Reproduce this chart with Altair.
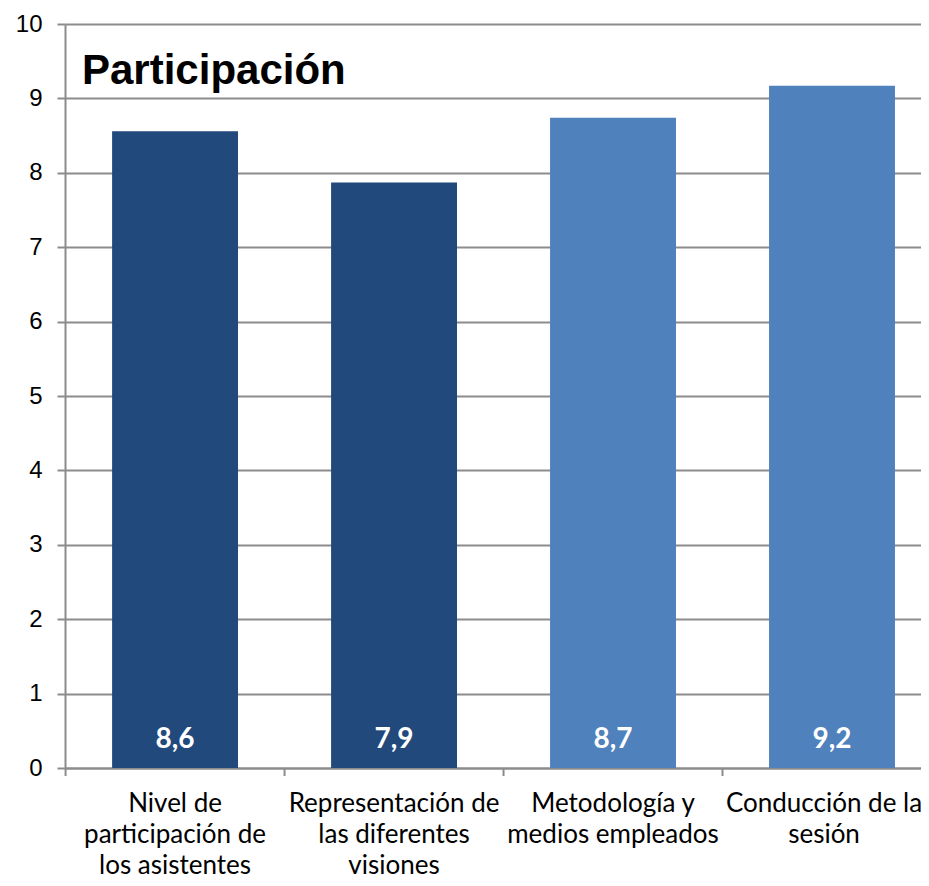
import altair as alt
import pandas as pd

categories = [
    "Nivel de\nparticipación de\nlos asistentes",
    "Representación de\nlas diferentes\nvisiones",
    "Metodología y\nmedios empleados",
    "Conducción de la\nsesión",
]
values = [8.56, 7.87, 8.74, 9.17]
labels = ["8,6", "7,9", "8,7", "9,2"]
groups = ["a", "a", "b", "b"]
title_text = "Participación"

df = pd.DataFrame({"cat": categories, "val": values, "lab": labels, "grp": groups})

PLOT_W = 856
PLOT_H = 744
PAD_INNER = 0.425
STEP = 219
GRAY = "#8c8c8c"

x_enc = alt.X(
    "cat:N",
    sort=categories,
    scale=alt.Scale(paddingInner=PAD_INNER, paddingOuter=0.167, align=0.644),
    axis=alt.Axis(
        title=None,
        labelAngle=0,
        labelExpr="split(datum.label, '\\n')",
        labelFont="Lato",
        labelFontSize=26,
        labelLineHeight=31,
        labelColor="#000000",
        labelPadding=22,
        labelLimit=400,
        labelOverlap=False,
        labelOffset={
            "condition": {"test": "indexof(datum.label, 'Conducci') == 0", "value": -8},
            "value": 0,
        },
        ticks=False,
        domainColor=GRAY,
        domainWidth=2,
        grid=False,
    ),
)

bars = alt.Chart(df).mark_bar(cornerRadius=0).encode(
    x=x_enc,
    y=alt.Y(
        "val:Q",
        scale=alt.Scale(domain=[0, 10], nice=False),
        axis=alt.Axis(
            title=None,
            values=list(range(0, 11)),
            format="d",
            labelFont="Liberation Sans",
            labelFontSize=24,
            labelColor="#000000",
            labelPadding=15,
            tickSize=8,
            tickColor=GRAY,
            tickWidth=2,
            domainColor=GRAY,
            domainWidth=2,
            grid=True,
            gridColor=GRAY,
            gridWidth=2,
        ),
    ),
    color=alt.Color(
        "grp:N",
        scale=alt.Scale(domain=["a", "b"], range=["#21497c", "#4f81bd"]),
        legend=None,
    ),
)

# category boundary ticks on the x axis (Excel style, between categories)
xticks = alt.Chart(df).mark_rule(
    color=GRAY, strokeWidth=2, xOffset=-PAD_INNER * STEP / 2
).encode(
    x=alt.X("cat:N", sort=categories, bandPosition=0),
    y=alt.value(PLOT_H),
    y2=alt.value(PLOT_H + 8),
)

text = alt.Chart(df).transform_calculate(base="0").mark_text(
    font="Lato",
    fontSize=28,
    fontWeight="bold",
    color="white",
    baseline="alphabetic",
    dy=-20,
).encode(
    x=alt.X("cat:N", sort=categories),
    y=alt.Y("base:Q"),
    text="lab:N",
)

chart = (
    alt.layer(bars, xticks, text)
    .properties(
        width=PLOT_W,
        height=PLOT_H,
        autosize=alt.AutoSizeParams(type="none"),
        padding={"left": 57, "top": 16, "right": 0, "bottom": 110},
        title=alt.TitleParams(
            text=title_text,
            font="Liberation Sans",
            fontSize=42,
            fontWeight="bold",
            color="#000000",
            anchor="start",
            frame="group",
            orient="top",
            offset=0,
            baseline="alphabetic",
            dx=17,
            dy=114,
        ),
    )
    .configure_view(stroke=None)
)

chart.save("out.html", embed_options={"renderer": "svg", "actions": False})
